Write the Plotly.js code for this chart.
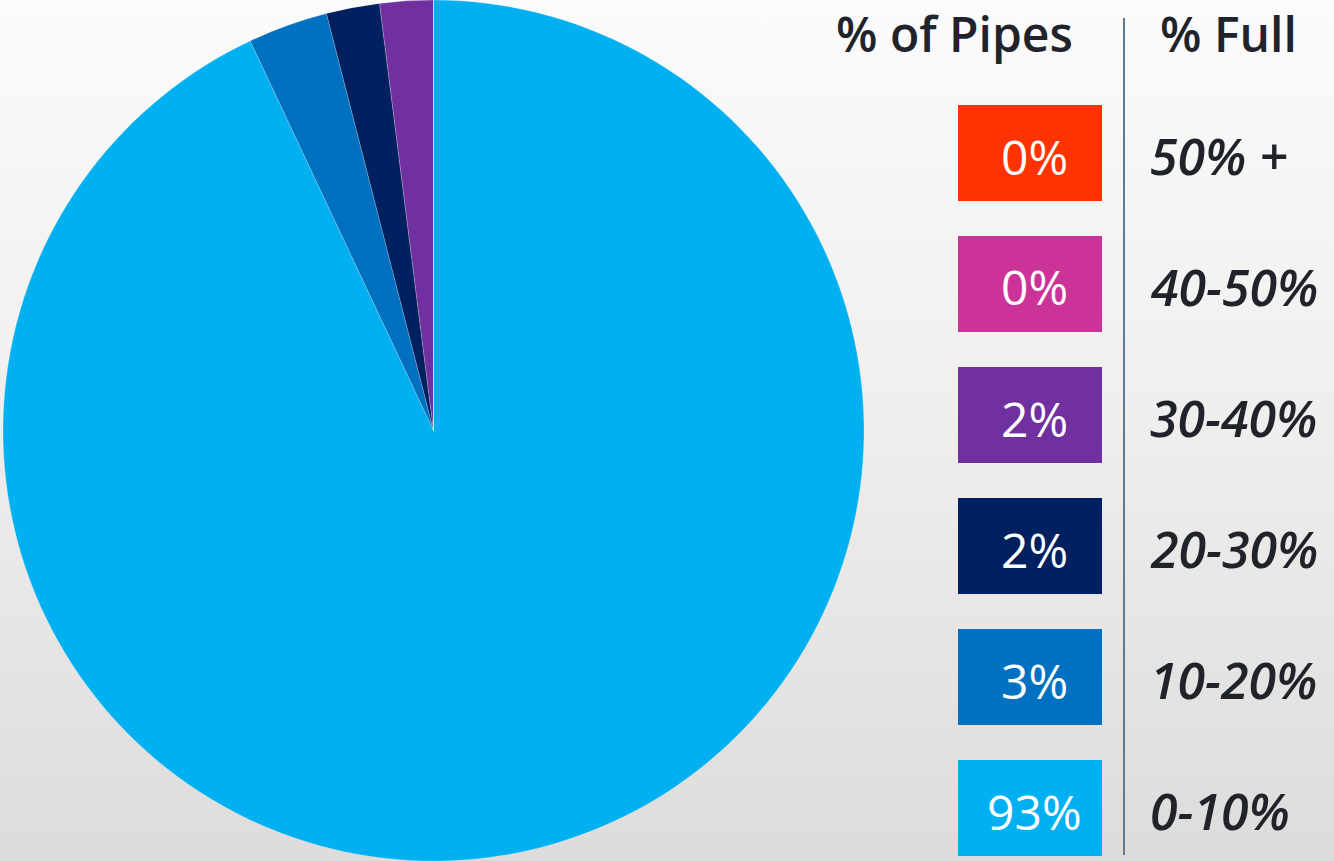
<!DOCTYPE html>
<html>
<head>
<meta charset="utf-8">
<script src="https://cdn.plot.ly/plotly-3.0.1.min.js"></script>
<style>
html,body{margin:0;padding:0;}
body{width:1334px;height:861px;background:linear-gradient(to bottom,#fbfbfb 0%,#efeeed 50%,#dddcda 100%);}
#chart{width:1334px;height:861px;}
</style>
</head>
<body>
<div id="chart"></div>
<script>
// Data (pie order: clockwise from top)
var categories = ["0-10%", "10-20%", "20-30%", "30-40%", "40-50%", "50% +"];
var values = [93, 3, 2, 2, 0, 0];
var colors = ["#00B0F0", "#0070C0", "#002060", "#7030A0", "#CC3399", "#FF3300"];
var headerPipes = "% of Pipes";
var headerFull = "% Full";

var FONT = "'Open Sans', Lato, sans-serif";

var trace = {
  type: "pie",
  labels: categories,
  values: values,
  sort: false,
  direction: "clockwise",
  rotation: 0,
  textinfo: "none",
  hoverinfo: "label+percent",
  marker: {colors: colors, line: {color: "rgba(255,255,255,0.35)", width: 0.6}},
  domain: {x: [3/1334, 864/1334], y: [0, 1]},
  showlegend: false
};

// Legend built from the same arrays, top row = last category
var shapes = [];
var annotations = [];
var n = categories.length;
var rowTop0 = 105, rowStep = 131, boxH = 96;
for (var i = 0; i < n; i++) {
  var idx = n - 1 - i;
  var y0 = rowTop0 + i * rowStep;
  var yc = y0 + boxH / 2;
  shapes.push({type: "rect", xref: "paper", yref: "paper",
    x0: 958/1334, x1: 1102/1334, y0: 1 - (y0 + boxH)/861, y1: 1 - y0/861,
    fillcolor: colors[idx], line: {width: 0}, layer: "above"});
  annotations.push({xref: "paper", yref: "paper", x: 1034/1334, y: 1 - (yc + 3)/861,
    text: values[idx] + "%", showarrow: false, xanchor: "center", yanchor: "middle",
    font: {family: FONT, size: 48, color: "#ffffff"}});
  annotations.push({xref: "paper", yref: "paper", x: 1148/1334, y: 1 - (yc + 3)/861,
    text: categories[idx], showarrow: false, xanchor: "left", yanchor: "middle",
    font: {family: FONT, size: 50, color: "#20242a", style: "italic", weight: 600}});
}
annotations.push({xref: "paper", yref: "paper", x: 954/1334, y: 1 - 33/861,
  text: headerPipes, showarrow: false, xanchor: "center", yanchor: "middle",
  font: {family: FONT, size: 48, color: "#20242a", weight: 600}});
annotations.push({xref: "paper", yref: "paper", x: 1228/1334, y: 1 - 33/861,
  text: headerFull, showarrow: false, xanchor: "center", yanchor: "middle",
  font: {family: FONT, size: 48, color: "#20242a", weight: 600}});
shapes.push({type: "line", xref: "paper", yref: "paper",
  x0: 1124/1334, x1: 1124/1334, y0: 1 - 855/861, y1: 1 - 18/861,
  line: {color: "#5f7b93", width: 2}});

var layout = {
  width: 1334, height: 861,
  margin: {l: 0, r: 0, t: 0, b: 0},
  paper_bgcolor: "rgba(0,0,0,0)",
  plot_bgcolor: "rgba(0,0,0,0)",
  shapes: shapes,
  annotations: annotations,
  showlegend: false
};
Plotly.newPlot("chart", [trace], layout, {displayModeBar: false, staticPlot: true});
</script>
</body>
</html>
